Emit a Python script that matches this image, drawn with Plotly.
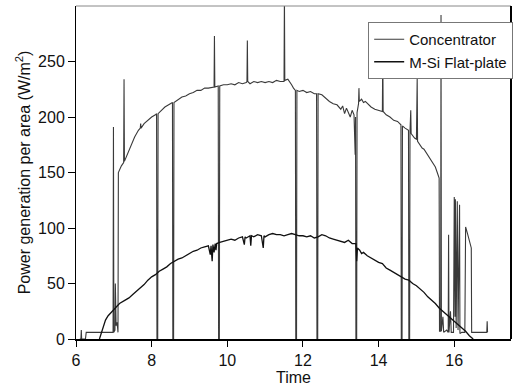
import plotly.graph_objects as go

# Concentrator (time in hours, power W/m^2)
conc_t = [6.10, 6.13, 6.14, 6.15, 6.25, 6.27, 6.50, 6.80, 6.98, 6.99, 7.00, 7.03, 7.04, 7.06, 7.08, 7.10, 7.11,
          7.12, 7.16, 7.20, 7.26, 7.27, 7.28, 7.35, 7.45, 7.55, 7.65, 7.70, 7.71, 7.72, 7.80, 7.90, 8.00, 8.10,
          8.13, 8.14, 8.16, 8.17, 8.25, 8.35, 8.45, 8.55, 8.56, 8.58, 8.59, 8.70, 8.80, 8.90, 9.00, 9.10, 9.20,
          9.30, 9.40, 9.50, 9.60, 9.65, 9.66, 9.67, 9.76, 9.77, 9.79, 9.80, 9.90, 10.0, 10.1, 10.2, 10.3, 10.4,
          10.5, 10.52, 10.53, 10.54, 10.6, 10.7, 10.8, 10.9, 11.0, 11.1, 11.2, 11.3, 11.4, 11.5, 11.51, 11.52,
          11.6, 11.65, 11.7, 11.75, 11.8, 11.81, 11.83, 11.84, 11.9, 12.0, 12.1, 12.2, 12.3, 12.36, 12.37, 12.39,
          12.40, 12.5, 12.6, 12.7, 12.8, 12.9, 13.0, 13.05, 13.1, 13.15, 13.2, 13.25, 13.3, 13.35, 13.38, 13.39,
          13.40, 13.42, 13.43, 13.47, 13.48, 13.49, 13.55, 13.6, 13.65, 13.7, 13.8, 13.9, 14.0, 14.1, 14.11,
          14.12, 14.2, 14.3, 14.4, 14.5, 14.59, 14.60, 14.62, 14.63, 14.7, 14.79, 14.80, 14.82, 14.83, 14.85,
          14.86, 14.9, 14.95, 15.0, 15.02, 15.03, 15.1, 15.15, 15.2, 15.3, 15.4, 15.5, 15.55, 15.6, 15.61, 15.64,
          15.65, 15.66, 15.70, 15.72, 15.80, 15.84, 15.85, 15.86, 15.90, 15.92, 15.98, 16.00, 16.02, 16.03, 16.05,
          16.08, 16.10, 16.14, 16.15, 16.20, 16.28, 16.30, 16.35, 16.40, 16.45, 16.46, 16.60, 16.86, 16.87, 16.88]
conc_p = [0, 0, 8, 0, 0, 6, 6, 6, 6, 191, 6, 8, 50, 12, 15, 10, 6,
          150, 154, 156, 159, 234, 160, 166, 175, 182, 188, 190, 194, 190, 194, 197, 200, 202,
          203, 0, 0, 203, 206, 209, 211, 213, 0, 0, 213, 216, 218, 219, 221, 222, 224,
          224, 226, 226, 227, 227, 273, 227, 228, 0, 0, 228, 229, 229, 230, 229, 231, 230,
          231, 232, 269, 232, 230, 232, 231, 232, 231, 232, 231, 233, 232, 232, 310, 233,
          234, 232, 229, 226, 224, 0, 0, 224, 223, 224, 222, 223, 221, 221, 0, 0,
          221, 220, 217, 214, 212, 211, 207, 210, 203, 208, 204, 200, 206, 202, 166, 200,
          0, 0, 204, 212, 226, 214, 216, 213, 214, 212, 209, 207, 206, 205, 262,
          205, 202, 200, 197, 196, 193, 0, 0, 192, 190, 188, 0, 0, 187, 206,
          185, 183, 181, 180, 235, 178, 175, 172, 171, 166, 161, 155, 150, 145, 7, 7,
          292, 7, 20, 6, 8, 6, 94, 6, 25, 6, 6, 128, 20, 126, 10,
          124, 8, 121, 5, 6, 6, 101, 95, 88, 82, 6, 6, 6, 16, 6]

# M-Si flat-plate
msi_t = [6.62, 6.70, 6.78, 6.85, 6.95, 7.05, 7.15, 7.30, 7.40, 7.50, 7.60, 7.70, 7.80, 7.90, 8.00, 8.10, 8.20,
         8.30, 8.40, 8.50, 8.60, 8.70, 8.80, 8.90, 9.00, 9.10, 9.20, 9.30, 9.40, 9.50, 9.55, 9.57, 9.60, 9.62,
         9.65, 9.68, 9.70, 9.72, 9.80, 9.90, 10.0, 10.1, 10.2, 10.3, 10.4, 10.45, 10.47, 10.5, 10.6, 10.62,
         10.64, 10.7, 10.8, 10.9, 10.95, 10.97, 11.0, 11.1, 11.2, 11.3, 11.4, 11.5, 11.6, 11.7, 11.8, 11.9,
         12.0, 12.1, 12.2, 12.3, 12.4, 12.5, 12.6, 12.7, 12.8, 12.9, 13.0, 13.1, 13.2, 13.3, 13.4, 13.42,
         13.44, 13.5, 13.55, 13.6, 13.7, 13.8, 13.9, 14.0, 14.1, 14.2, 14.3, 14.4, 14.5, 14.6, 14.7, 14.8,
         14.9, 15.0, 15.1, 15.2, 15.3, 15.4, 15.5, 15.6, 15.7, 15.8, 15.9, 16.0, 16.1, 16.2, 16.3, 16.4, 16.5]
msi_p = [0, 8, 17, 21, 25, 29, 32, 35, 37, 40, 43, 46, 49, 53, 56, 58, 61,
         63, 65, 68, 70, 72, 73, 75, 77, 79, 80, 82, 83, 84, 76, 84, 70, 85,
         78, 86, 80, 86, 87, 88, 89, 90, 89, 91, 92, 85, 92, 91, 93, 84,
         93, 92, 94, 93, 82, 93, 92, 94, 95, 94, 94, 93, 94, 95, 94, 93,
         93, 92, 93, 91, 92, 94, 93, 91, 90, 89, 88, 87, 89, 86, 86, 70,
         82, 80, 77, 78, 75, 73, 71, 69, 68, 64, 62, 60, 58, 56, 54, 53,
         50, 48, 45, 42, 38, 35, 32, 28, 25, 22, 19, 16, 13, 10, 7, 3, 0]

x_ticks = [6, 8, 10, 12, 14, 16]
y_ticks = [0, 50, 100, 150, 200, 250]

FONT = "Arial, Liberation Sans, sans-serif"

fig = go.Figure()
fig.add_trace(go.Scatter(x=conc_t, y=conc_p, mode="lines", name="Concentrator",
                         line=dict(color="#3a3a3a", width=1.1)))
fig.add_trace(go.Scatter(x=msi_t, y=msi_p, mode="lines", name="M-Si Flat-plate",
                         line=dict(color="#111111", width=1.3)))

fig.update_layout(
    width=519, height=387,
    margin=dict(l=76, r=6, t=6, b=48),
    paper_bgcolor="white", plot_bgcolor="white",
    font=dict(family=FONT, size=16, color="#111111"),
    showlegend=True,
    legend=dict(x=1.005, xanchor="right", y=0.952, yanchor="top",
                bgcolor="white", bordercolor="#777777", borderwidth=1,
                font=dict(size=15), tracegroupgap=0),
    xaxis=dict(range=[6, 17.5], tickvals=x_ticks, ticks="outside", ticklen=6,
               tickcolor="black", showline=True, linecolor="black", linewidth=2,
               showgrid=False, zeroline=False,
               title=dict(text="Time", standoff=0, font=dict(size=16))),
    yaxis=dict(range=[0, 300], tickvals=y_ticks, ticks="outside", ticklen=7,
               tickcolor="black", showline=True, linecolor="black", linewidth=1,
               showgrid=False, zeroline=False,
               title=dict(text="Power generation per area (W/m<sup>2</sup>)", standoff=3,
                          font=dict(size=16))),
    shapes=[
        dict(type="line", xref="paper", yref="paper", x0=0, x1=1, y0=1, y1=1,
             line=dict(color="#888888", width=1), layer="above"),
        dict(type="line", xref="paper", yref="paper", x0=1, x1=1, y0=0, y1=1,
             line=dict(color="black", width=2), layer="above"),
    ],
)

fig.write_html("out.html")
